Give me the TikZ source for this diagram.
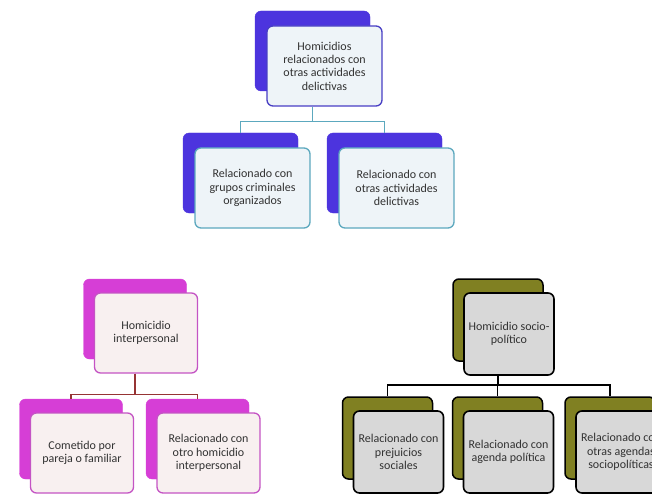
\documentclass[tikz,border=0pt]{standalone}
\usepackage{fontspec}
\setmainfont{Carlito}
\usepackage{xcolor}
\usetikzlibrary{shapes,arrows,positioning}

\definecolor{bluedark}{RGB}{76,52,222}
\definecolor{blueline}{RGB}{72,62,196}
\definecolor{tealline}{RGB}{92,168,190}
\definecolor{bluefill}{RGB}{238,244,248}
\definecolor{magback}{RGB}{214,62,214}
\definecolor{magline}{RGB}{196,84,196}
\definecolor{magfill}{RGB}{248,240,240}
\definecolor{brownline}{RGB}{150,52,52}
\definecolor{oliveback}{RGB}{128,128,34}
\definecolor{greyfill}{RGB}{216,216,216}
\definecolor{textgrey}{RGB}{50,50,50}

\begin{document}
\begin{tikzpicture}[
        x=1pt,y=-1pt,
        every node/.style={rounded corners=6pt,inner sep=0pt,align=center,font=\fontsize{12}{13.4}\selectfont,text=textgrey},
        back/.style={minimum width=#1,minimum height=80pt},
        blueback/.style={back=115pt,fill=bluedark,draw=bluedark},
        bluefront/.style={minimum width=115pt,minimum height=80pt,fill=bluefill,draw=tealline,line width=1.3pt},
        magback/.style={back=103pt,minimum height=80pt,fill=magback,draw=magback},
        magfront/.style={minimum width=103pt,minimum height=80pt,fill=magfill,draw=magline,line width=1.3pt},
        oliveback/.style={back=90pt,minimum height=82pt,fill=oliveback,draw=black,line width=1.5pt},
        olivefront/.style={minimum width=90pt,minimum height=82pt,fill=greyfill,draw=black,line width=1.6pt},
        link/.style={line width=1.4pt},
        ]
      \useasboundingbox (0,0) rectangle (652,494);

      % homicidios relacionados con otras actividades
      \node [blueback] (hrel-back) at (312.5,51) {};
      \node [bluefront,draw=blueline] (hrel) at ([shift={(12,15)}]hrel-back.center) {Homicidios\\relacionados con\\otras actividades\\delictivas};
      \node [blueback] (grupos-back) at (240.5,173) {};
      \node [bluefront] (grupos) at ([shift={(12,15)}]grupos-back.center) {Relacionado con\\grupos criminales\\organizados};
      \node [blueback] (otras-back) at (384.5,173) {};
      \node [bluefront] (otras) at ([shift={(12,15)}]otras-back.center) {Relacionado con\\otras actividades\\delictivas};

      % homicidio interpersonal
      \node [magback] (hinter-back) at (135,319) {};
      \node [magfront] (hinter) at ([shift={(11,14)}]hinter-back.center) {Homicidio\\interpersonal};
      \node [magback] (pareja-back) at (71,439) {};
      \node [magfront] (pareja) at ([shift={(11,14)}]pareja-back.center) {Cometido por\\pareja o familiar};
      \node [magback] (otro-back) at (197.5,439) {};
      \node [magfront] (otro) at ([shift={(11,14)}]otro-back.center) {Relacionado con\\otro homicidio\\interpersonal};

      % homicidio socio-politico
      \node [oliveback] (hsocio-back) at (498,320) {};
      \node [olivefront] (hsocio) at ([shift={(11,14)}]hsocio-back.center) {Homicidio socio-\\político};
      \node [oliveback] (prejuicios-back) at (387.5,438) {};
      \node [olivefront] (prejuicios) at ([shift={(11,14)}]prejuicios-back.center) {Relacionado con\\prejuicios\\sociales};
      \node [oliveback] (agenda-back) at (497.5,438) {};
      \node [olivefront] (agenda) at ([shift={(11,14)}]agenda-back.center) {Relacionado con\\agenda política};
      \node [oliveback] (agendas-back) at (610,438) {};
      \node [olivefront] (agendas) at ([shift={(11,14)}]agendas-back.center) {Relacionado con\\otras agendas\\sociopolíticas};

      \draw[link,tealline] (hrel-back.south |- hrel.south) -- ++(0,15) -| (grupos-back.north);
      \draw[link,tealline] (hrel-back.south |- hrel.south) -- ++(0,15) -| (otras-back.north);
      \draw[link,brownline] (hinter-back.south |- hinter.south) -- ++(0,21) -| (pareja-back.north);
      \draw[link,brownline] (hinter-back.south |- hinter.south) -- ++(0,21) -| (otro-back.north);
      \draw[link,black] (hsocio-back.south |- hsocio.south) -- ++(0,9) -| (prejuicios-back.north);
      \draw[link,black] (hsocio-back.south |- hsocio.south) -- ++(0,9) -| (agenda-back.north);
      \draw[link,black] (hsocio-back.south |- hsocio.south) -- ++(0,9) -| (agendas-back.north);
    \end{tikzpicture}
\end{document}
